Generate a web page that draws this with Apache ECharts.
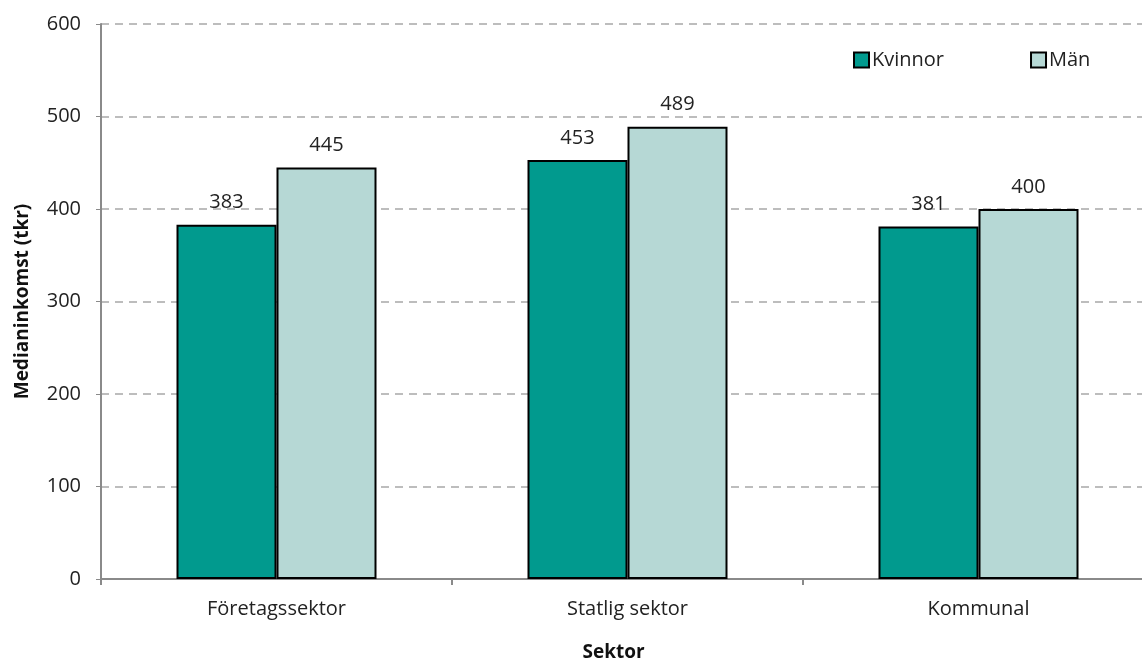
<!DOCTYPE html>
<html>
<head>
<meta charset="utf-8">
<script src="https://cdn.jsdelivr.net/npm/echarts@6/dist/echarts.min.js"></script>
<style>
  html, body { margin: 0; padding: 0; background: #fff; }
  #chartDiv { width: 1142px; height: 659px; }
</style>
</head>
<body>
<div id="chartDiv"></div>
<script>
// data
var sektorer = ['Företagssektor', 'Statlig sektor', 'Kommunal'];
var kvinnor = [383, 453, 381];
var man = [445, 489, 400];
var yTicks = [0, 100, 200, 300, 400, 500, 600];

var fontFam = '"Open Sans", "Noto Sans", sans-serif';
var myChart = echarts.init(document.getElementById('chartDiv'));

var option = {
    animation: false,
    textStyle: { fontFamily: fontFam },
    legend: {
        data: ['Kvinnor', 'Män'],
        top: 45,
        left: 848,
        itemWidth: 15,
        itemHeight: 15,
        itemGap: 86,
        icon: 'rect',
        textStyle: { fontSize: 20, color: '#222', fontFamily: fontFam, padding: [0, 0, 0, -2] }
    },
    grid: {
        left: 101,
        top: 24,
        width: 1053,
        bottom: 80,
        outerBoundsMode: 'none',
        containLabel: false
    },
    xAxis: {
        type: 'category',
        data: sektorer,
        name: 'Sektor',
        nameLocation: 'middle',
        nameGap: 64,
        nameTextStyle: { fontSize: 19, fontWeight: 'bold', color: '#111', padding: [0, 28, 0, 0] },
        axisLine: { lineStyle: { color: '#8a8a8a', width: 2 } },
        axisTick: { show: true, length: 6, lineStyle: { color: '#8a8a8a', width: 2 } },
        axisLabel: { fontSize: 20, color: '#222', margin: 20 }
    },
    yAxis: {
        type: 'value',
        min: yTicks[0],
        max: yTicks[yTicks.length - 1],
        interval: 100,
        name: 'Medianinkomst (tkr)',
        nameLocation: 'middle',
        nameGap: 69,
        nameTextStyle: { fontSize: 19, fontWeight: 'bold', color: '#111' },
        axisLine: { show: true, lineStyle: { color: '#8a8a8a', width: 2 } },
        axisTick: { show: true, length: 5, lineStyle: { color: '#8a8a8a', width: 1 } },
        axisLabel: { fontSize: 20, color: '#222', margin: 20 },
        splitLine: { lineStyle: { color: '#bdbdbd', type: [8, 6], width: 2 } }
    },
    series: [
        {
            name: 'Kvinnor',
            type: 'bar',
            data: kvinnor,
            barWidth: 100,
            barGap: '0%',
            itemStyle: { color: '#019a8e', borderColor: '#000', borderWidth: 2 },
            label: { show: true, position: 'top', distance: 12, fontSize: 20, color: '#222' }
        },
        {
            name: 'Män',
            type: 'bar',
            data: man,
            barWidth: 100,
            itemStyle: { color: '#b6d8d5', borderColor: '#000', borderWidth: 2 },
            label: { show: true, position: 'top', distance: 12, fontSize: 20, color: '#222' }
        }
    ]
};

myChart.setOption(option);
window.onresize = myChart.resize;
</script>
</body>
</html>
